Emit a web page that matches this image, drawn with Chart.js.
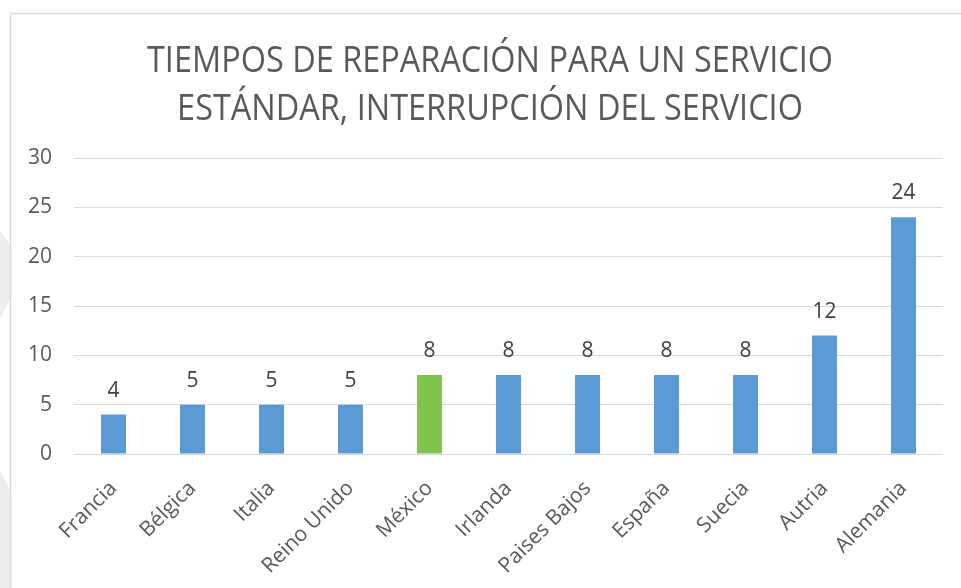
<!DOCTYPE html>
<html>
<head>
<meta charset="utf-8">
<script src="https://cdn.jsdelivr.net/npm/chart.js@4.4.1/dist/chart.umd.min.js"></script>
<style>
html,body{margin:0;padding:0;background:#fff;}
#wrap{width:961px;height:588px;position:relative;}
</style>
</head>
<body>
<div id="wrap"><canvas id="c" width="961" height="588"></canvas></div>
<script>
const titleLines = ['TIEMPOS DE REPARACIÓN PARA UN SERVICIO', 'ESTÁNDAR, INTERRUPCIÓN DEL SERVICIO'];
const categories = ['Francia','Bélgica','Italia','Reino Unido','México','Irlanda','Paises Bajos','España','Suecia','Autria','Alemania'];
const values = [4,5,5,5,8,8,8,8,8,12,24];
const highlight = 'México';
const yTicks = [0,5,10,15,20,25,30];

const BLUE = '#5B9BD5', GREEN = '#80C34F';
const barColors = categories.map(c => c === highlight ? GREEN : BLUE);

const bgPlugin = {
  id: 'bg',
  beforeDraw(chart) {
    const ctx = chart.ctx;
    ctx.save();
    ctx.fillStyle = '#fff';
    ctx.fillRect(0, 0, chart.width, chart.height);
    ctx.fillStyle = '#EDEDED';
    ctx.beginPath();
    ctx.moveTo(0, 230); ctx.lineTo(10, 245); ctx.lineTo(10, 300); ctx.lineTo(0, 318); ctx.closePath();
    ctx.fill();
    ctx.beginPath();
    ctx.moveTo(0, 470); ctx.lineTo(10, 490); ctx.lineTo(10, 588); ctx.lineTo(0, 588); ctx.closePath();
    ctx.fill();
    ctx.strokeStyle = '#D9D9D9';
    ctx.lineWidth = 1.5;
    ctx.strokeRect(10.5, 13.5, 1000, 1000);
    ctx.restore();
  }
};

const titlePlugin = {
  id: 'ttl',
  afterDraw(chart) {
    const ctx = chart.ctx;
    ctx.save();
    ctx.font = '400 37px "Open Sans"';
    ctx.fillStyle = '#595959';
    ctx.textAlign = 'center';
    ctx.textBaseline = 'alphabetic';
    const w = ctx.measureText(titleLines[0]).width;
    const sx = 686 / w;
    const cx = 490;
    const baselines = [72, 120];
    titleLines.forEach((t, i) => {
      ctx.save();
      ctx.translate(cx, baselines[i]);
      ctx.scale(sx, 1);
      ctx.fillText(t, 0, 0);
      ctx.restore();
    });
    ctx.restore();
  }
};

const labelPlugin = {
  id: 'vals',
  afterDatasetsDraw(chart) {
    const ctx = chart.ctx;
    const meta = chart.getDatasetMeta(0);
    ctx.save();
    ctx.font = '21px "Open Sans"';
    ctx.fillStyle = '#404040';
    ctx.textAlign = 'center';
    ctx.textBaseline = 'alphabetic';
    meta.data.forEach((bar, i) => {
      ctx.fillText(String(values[i]), bar.x, bar.y - 18);
    });
    ctx.restore();
  }
};

new Chart(document.getElementById('c'), {
  type: 'bar',
  data: {
    labels: categories,
    datasets: [{
      data: values,
      backgroundColor: barColors,
      borderWidth: 0,
      categoryPercentage: 1,
      barPercentage: 0.316
    }]
  },
  options: {
    responsive: false,
    animation: false,
    events: [],
    layout: { padding: { left: 10, top: 158, right: 18, bottom: 0 } },
    plugins: { legend: { display: false }, title: { display: false }, tooltip: { enabled: false } },
    scales: {
      x: {
        grid: { display: false, drawTicks: false },
        border: { display: false },
        ticks: {
          color: '#595959',
          font: { family: '"Open Sans"', size: 21 },
          minRotation: 45, maxRotation: 45,
          padding: 22,
          autoSkip: false
        },
        afterFit(s) { s.height = 134; }
      },
      y: {
        min: yTicks[0], max: yTicks[yTicks.length - 1],
        afterBuildTicks(s) { s.ticks = yTicks.map(v => ({ value: v })); },
        grid: { color: '#D9D9D9', lineWidth: 1, drawTicks: false },
        border: { display: false },
        ticks: {
          color: '#595959',
          font: { family: '"Open Sans"', size: 21 },
          padding: 22
        },
        afterFit(s) { s.width = 64; }
      }
    }
  },
  plugins: [bgPlugin, titlePlugin, labelPlugin]
});
</script>
</body>
</html>
